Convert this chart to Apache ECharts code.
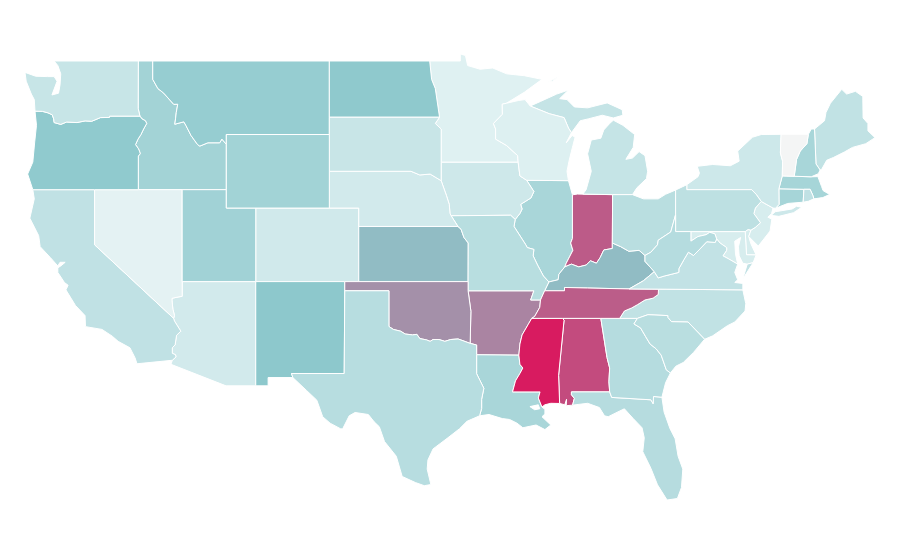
<!DOCTYPE html>
<html>
<head>
<meta charset="utf-8">
<title>US states</title>
<style>
  html, body { margin: 0; padding: 0; background: #fff; }
  #main { width: 900px; height: 560px; }
</style>
<script src="https://cdn.jsdelivr.net/npm/echarts@6/dist/echarts.min.js"></script>
</head>
<body>
<div id="main"></div>
<script>
// values, same order in both lists
var stateNames = ['Alabama','Arizona','Arkansas','California','Colorado','Connecticut','Delaware','District of Columbia','Florida','Georgia','Idaho','Illinois','Indiana','Iowa','Kansas','Kentucky','Louisiana','Maine','Maryland','Massachusetts','Michigan','Minnesota','Mississippi','Missouri','Montana','Nebraska','Nevada','New Hampshire','New Jersey','New Mexico','New York','North Carolina','North Dakota','Ohio','Oklahoma','Oregon','Pennsylvania','Rhode Island','South Carolina','South Dakota','Tennessee','Texas','Utah','Vermont','Virginia','Washington','West Virginia','Wisconsin','Wyoming'];
var stateValues = [90.7,39.5,79.7,46.5,40.3,56.6,37.6,36,50.4,50.7,57.7,55.4,87.7,41.1,69,69,55.4,46.1,37.6,56.6,44.5,34.5,100,49.6,62.8,39.5,29.5,55.8,37.6,66.3,41.4,46.1,65.5,49.2,77.4,65.1,47.6,46.5,49.2,43.4,87.3,50,58.5,2,45.7,43.8,50.7,35.2,58.1];
var scaleColors = ['#f5f5f5', '#e2f2f3', '#8cc8cc', '#d81b60'];

// shared borders in lon/lat, so that neighbouring states line up
var borders = {
  waOr: [[-124.05,46.27],[-123.55,46.26],[-123.17,46.18],[-122.88,46.07],[-122.78,45.85],[-122.75,45.65],[-122.3,45.55],[-121.9,45.68],[-121.2,45.65],[-120.65,45.74],[-120.2,45.72],[-119.6,45.92],[-119,45.93],[-118.98,46],[-116.92,46]],
  orId: [[-116.92,46],[-116.78,45.85],[-116.55,45.75],[-116.46,45.6],[-116.67,45.3],[-116.85,45],[-117.05,44.75],[-117.22,44.45],[-117.04,44.25],[-116.95,44.1],[-116.9,43.95],[-117.03,43.83],[-117.03,42]],
  idMt: [[-116.05,49],[-116.05,48],[-115.7,47.5],[-115.3,47.25],[-114.95,46.93],[-114.62,46.64],[-114.35,46.65],[-114.45,46.2],[-114.5,45.85],[-114.55,45.56],[-113.94,45.69],[-113.8,45.5],[-113.45,44.95],[-113,44.45],[-112.85,44.37],[-112.3,44.55],[-111.5,44.55],[-111.35,44.75],[-111.05,44.47]],
  orCoast: [[-124.05,46.27],[-123.95,45.5],[-124.07,44.6],[-124.2,43.5],[-124.55,42.85],[-124.2,42]],
  caCoast: [[-124.2,42],[-124.1,41.5],[-124.4,40.45],[-123.8,39.5],[-123.7,38.9],[-123,38.3],[-122.5,37.85],[-122.35,38.05],[-122,38.05],[-122.3,37.85],[-122.5,37.75],[-122.5,37.5],[-122.05,36.95],[-121.8,36.8],[-121.95,36.55],[-121.3,35.7],[-120.65,35.15],[-120.62,34.55],[-119.5,34.4],[-118.8,34.03],[-118.4,33.75],[-117.6,33.4],[-117.25,32.85],[-117.12,32.53],[-114.72,32.72]],
  caAz: [[-114.63,35],[-114.57,34.85],[-114.14,34.3],[-114.43,34.08],[-114.53,33.56],[-114.72,33.4],[-114.72,33.1],[-114.5,33.02],[-114.47,32.9],[-114.72,32.72]],
  nvAz: [[-114.63,35],[-114.57,35.15],[-114.68,35.5],[-114.74,35.95],[-114.74,36.09],[-114.4,36.15],[-114.05,36.2]],
  red: [[-100,34.56],[-99.7,34.4],[-99.2,34.3],[-98.9,34.15],[-98.4,34.1],[-98.1,34.13],[-97.9,33.9],[-97.45,33.83],[-97.2,33.75],[-97,33.85],[-96.6,33.85],[-96.2,33.75],[-95.8,33.85],[-95.3,33.88],[-94.48,33.64]],
  txLa: [[-94.04,33.02],[-94.04,31.99],[-93.8,31.6],[-93.55,31.2],[-93.7,30.6],[-93.7,30.1],[-93.84,29.7]],
  txCoast: [[-93.84,29.7],[-94.7,29.4],[-95.2,29],[-96,28.5],[-97,27.9],[-97.35,27.3],[-97.4,26.8],[-97.15,25.96],[-97.6,25.9],[-98.2,26.07],[-99.1,26.4],[-99.5,27.5],[-100.3,28.3],[-100.65,29.1],[-101,29.37],[-101.4,29.77],[-102.3,29.88],[-102.7,29.7],[-103.15,28.98],[-103.3,29],[-104,29.3],[-104.5,29.65],[-104.9,30.55],[-105.6,31.08],[-106.53,31.78]],
  laMsRiver: [[-91.17,33],[-91.1,32.5],[-90.9,32.3],[-91.1,32],[-91.4,31.6],[-91.6,31]],
  laMs: [[-91.6,31],[-89.73,31],[-89.85,30.67],[-89.6,30.18]],
  arMs: [[-91.17,33],[-91.1,33.6],[-90.95,34.1],[-90.55,34.65],[-90.3,35]],
  msAl: [[-88.2,35],[-88.1,34.9],[-88.47,31.9],[-88.4,30.37]],
  alGa: [[-85.6,35],[-85.18,32.87],[-85,32.3],[-85.05,31.55],[-85,31]],
  gaFl: [[-85,31],[-84.86,30.7],[-82.2,30.57],[-82.05,30.36],[-82.02,30.75],[-81.45,30.71]],
  alFl: [[-85,31],[-87.6,31],[-87.6,30.85],[-87.4,30.65],[-87.52,30.28]],
  gaSc: [[-83.11,35],[-83.35,34.7],[-82.9,34.48],[-82.55,34],[-82.25,33.6],[-81.85,33.35],[-81.5,33],[-81.15,32.2],[-80.87,32.03]],
  ncSc: [[-83.11,35],[-82.4,35.2],[-81.05,35.15],[-81.05,35.05],[-80.8,34.82],[-79.67,34.8],[-78.55,33.86]],
  tnNc: [[-81.68,36.59],[-81.7,36.3],[-82.05,36.1],[-82.6,36],[-83.1,35.75],[-83.5,35.57],[-84,35.4],[-84.32,35]],
  kyTn: [[-83.68,36.6],[-86.5,36.65],[-88.07,36.68],[-88.07,36.5],[-89.42,36.5]],
  arTn: [[-89.7,36],[-89.75,35.6],[-90.1,35.1],[-90.3,35]],
  neIa: [[-96.45,42.49],[-96.1,41.7],[-95.9,41.2],[-95.85,40.7],[-95.77,40.58]],
  moKs: [[-95.31,40],[-95.1,39.85],[-94.9,39.4],[-94.61,39.1],[-94.62,37]],
  iaWi: [[-91.22,43.5],[-91.1,42.75],[-90.64,42.51]],
  iaIl: [[-90.64,42.51],[-90.15,41.9],[-90.35,41.55],[-91.05,41.2],[-90.95,40.95],[-91.1,40.7],[-91.42,40.38]],
  moIl: [[-91.42,40.38],[-91.5,40],[-90.7,39],[-90.6,38.85],[-90.15,38.75],[-90.2,38.4],[-89.9,37.9],[-89.5,37.3],[-89.13,36.98]],
  mnWi: [[-92.02,46.7],[-92.3,46.65],[-92.29,46.1],[-92.9,45.6],[-92.75,45.3],[-92.75,44.75],[-92,44.4],[-91.25,43.85],[-91.22,43.5]],
  wiMi: [[-90.4,46.55],[-89.1,46.13],[-88.1,45.92],[-87.8,45.35],[-87.6,45.1]],
  ilIn: [[-87.53,41.72],[-87.53,39.35],[-87.65,39.1],[-87.5,38.7],[-87.95,38],[-88.05,37.8]],
  ilKy: [[-88.05,37.8],[-88.45,37.4],[-88.5,37.1],[-89.13,36.98]],
  inKy: [[-88.05,37.8],[-87.6,37.95],[-87.1,37.8],[-86.6,37.9],[-86.3,38.13],[-85.9,38],[-85.65,38.3],[-85.4,38.72],[-84.82,38.8],[-84.82,39.1]],
  ohKy: [[-82.6,38.42],[-83,38.7],[-83.7,38.65],[-84.25,38.9],[-84.82,39.1]],
  ohWv: [[-80.52,40.64],[-80.85,39.7],[-81.7,39.25],[-81.75,39],[-82.2,38.6],[-82.6,38.42]],
  kyWv: [[-82.6,38.42],[-82.6,38.1],[-81.97,37.54]],
  kyVa: [[-81.97,37.54],[-82.7,37.05],[-83.68,36.6]],
  wvVa: [[-81.97,37.54],[-81.7,37.2],[-81.3,37.3],[-80.3,37.5],[-80.3,37.7],[-79.95,38.2],[-79.65,38.6],[-79.3,38.42],[-78.87,38.77],[-78.4,39.17],[-77.83,39.13],[-77.73,39.32]],
  wvMd: [[-79.48,39.72],[-79.48,39.2],[-79,39.45],[-78.45,39.55],[-78.2,39.68],[-77.85,39.6],[-77.73,39.32]],
  vaMd: [[-77.73,39.32],[-77.5,39.1],[-77.05,38.85],[-77.05,38.7],[-77.3,38.4],[-76.95,38.25],[-76.3,37.95]],
  deMd: [[-75.79,39.72],[-75.7,38.46],[-75.05,38.45]],
  njPa: [[-75.4,39.8],[-75.1,39.95],[-74.75,40.2],[-75.2,40.7],[-75.1,41],[-74.7,41.36]],
  nyPa: [[-74.7,41.36],[-75.05,41.75],[-75.35,42],[-79.76,42],[-79.76,42.27]],
  vtNy: [[-73.35,45.01],[-73.4,44],[-73.25,43.55],[-73.27,42.75]],
  nyMa: [[-73.27,42.75],[-73.5,42.05]],
  nyCt: [[-73.5,42.05],[-73.49,41.2],[-73.73,40.99]],
  vtNh: [[-71.5,45.01],[-71.6,44.5],[-72.05,44.1],[-72.3,43.65],[-72.46,42.73]],
  nhMe: [[-71.08,45.3],[-70.98,43.4],[-70.7,43.07]],
  maRi: [[-71.8,42.02],[-71.38,42.02],[-71.2,41.7],[-71.12,41.5]],
  ctRi: [[-71.8,42.02],[-71.85,41.32]]
};

// a ring mixes plain points with border names, '-name' runs a border backwards
var stateRings = {
  'Washington': [[[-122.75,49],[-117.03,49],[-117.04,46.42],[-116.92,46],'-waOr',[-124.1,46.9],[-124.3,47.2],[-124.65,47.9],[-124.73,48.38],[-124,48.17],[-123.2,48.15],[-122.75,48.15],[-122.55,47.9],[-122.9,47.15],[-122.45,47.25],[-122.35,47.7],[-122.3,48.3],[-122.5,48.75]]],
  'Oregon': [['waOr','orId',[-120,42],[-124.2,42],'-orCoast']],
  'California': [[[-124.2,42],[-120,42],[-120,39],[-114.63,35],'caAz','-caCoast']],
  'Nevada': [[[-120,42],[-114.05,42],[-114.05,36.2],'-nvAz',[-120,39]]],
  'Idaho': [[[-117.03,49],'idMt',[-111.05,42],[-117.03,42],'-orId',[-117.04,46.42]]],
  'Montana': [['idMt',[-111.05,45],[-104.05,45],[-104.05,45.94],[-104.05,49]]],
  'Wyoming': [[[-111.05,45],[-104.05,45],[-104.05,41],[-111.05,41]]],
  'Utah': [[[-114.05,42],[-111.05,42],[-111.05,41],[-109.05,41],[-109.05,37],[-114.05,37]]],
  'Arizona': [[[-114.05,37],[-109.05,37],[-109.05,31.33],[-111.07,31.33],[-114.81,32.5],[-114.72,32.72],'-caAz','nvAz']],
  'Colorado': [[[-109.05,41],[-102.05,41],[-102.05,37],[-109.05,37]]],
  'New Mexico': [[[-109.05,37],[-103,37],[-103,36.5],[-103.04,32],[-106.62,32],[-106.53,31.78],[-108.21,31.78],[-108.21,31.33],[-109.05,31.33]]],
  'Texas': [[[-103,36.5],[-100,36.5],'red',[-94.04,33.55],'txLa','txCoast',[-106.62,32],[-103.04,32]]],
  'Oklahoma': [[[-103,37],[-94.62,37],[-94.62,36.5],[-94.43,35.39],[-94.48,33.64],'-red',[-100,36.5],[-103,36.5]]],
  'Kansas': [[[-102.05,40],'moKs',[-102.05,37]]],
  'Nebraska': [[[-104.05,43],[-98.5,43],[-97.9,42.8],[-97.2,42.85],'neIa',[-95.31,40],[-102.05,40],[-102.05,41],[-104.05,41]]],
  'South Dakota': [[[-104.05,45.94],[-96.56,45.94],[-96.85,45.6],[-96.45,45.3],[-96.45,43.5],[-96.45,42.49],[-97.2,42.85],[-97.9,42.8],[-98.5,43],[-104.05,43]]],
  'North Dakota': [[[-104.05,49],[-97.23,49],[-97.1,48],[-96.85,47.5],[-96.56,45.94],[-104.05,45.94]]],
  'Minnesota': [[[-97.23,49],[-95.15,49],[-95.15,49.38],[-94.8,49.3],[-94.65,48.75],[-93.8,48.55],[-92.95,48.62],[-92,48.3],[-90.8,48.2],[-89.6,48],[-90.8,47.3],'mnWi',[-96.45,43.5],[-96.45,45.3],[-96.85,45.6],[-96.56,45.94],[-96.85,47.5],[-97.1,48]]],
  'Iowa': [[[-96.45,43.5],[-91.22,43.5],[-91.1,42.75],'iaIl',[-91.73,40.61],[-95.77,40.58],'-neIa']],
  'Missouri': [[[-95.77,40.58],[-91.73,40.61],'moIl',[-89.42,36.5],[-89.7,36],[-90.37,36],[-90.15,36.5],[-94.62,36.5],'-moKs']],
  'Arkansas': [[[-94.62,36.5],[-90.15,36.5],[-90.37,36],'arTn','-arMs',[-94.04,33.02],[-94.04,33.55],[-94.48,33.64],[-94.43,35.39]]],
  'Louisiana': [[[-94.04,33.02],'laMsRiver','laMs',[-89.4,30.05],[-89.4,29.8],[-89.6,29.65],[-89,29.2],[-89.4,28.95],[-90,29.2],[-90.9,29.05],[-91.3,29.3],[-91.8,29.5],[-92.3,29.55],[-93.2,29.77],'-txLa'],[[-90.42,30.2],[-90.1,30.03],[-89.75,30.08],[-89.85,30.3]]],
  'Wisconsin': [['mnWi','iaWi',[-87.8,42.49],[-87.9,43],[-87.75,43.6],[-87.5,44.4],[-87.35,44.85],[-87.55,44.95],[-87.95,44.55],'-wiMi',[-90.75,46.9],[-91.2,46.85]]],
  'Illinois': [[[-90.64,42.51],[-87.8,42.49],'ilIn','ilKy','-moIl','-iaIl']],
  'Indiana': [[[-87.53,41.72],[-87.2,41.76],[-84.8,41.73],[-84.82,39.1],'-inKy','-ilIn']],
  'Ohio': [[[-84.8,41.73],[-83.45,41.73],[-82.7,41.5],[-81.7,41.5],[-81.2,41.75],[-80.52,41.98],'ohWv','ohKy']],
  'Michigan': [
    [[-86.82,41.76],[-84.8,41.73],[-83.45,41.73],[-83.15,42.1],[-82.5,42.6],[-82.42,43],[-82.6,43.85],[-83,44.07],[-83.45,43.72],[-83.9,43.65],[-83.4,44.3],[-83.3,45],[-84.1,45.5],[-84.75,45.78],[-85,45.6],[-85.4,45.25],[-85.6,44.8],[-86.25,44.7],[-86.5,43.95],[-86.25,43],[-86.6,42]],
    ['wiMi',[-87,45.75],[-86.46,45.85],[-85.5,46.05],[-84.75,45.9],[-84.1,46.05],[-84.15,46.35],[-85.17,46.72],[-86.5,46.45],[-87.4,46.5],[-87.9,46.9],[-88.4,46.95],[-87.8,47.42],[-88.6,47.2],[-89.7,46.8]],
    [[-89.2,47.85],[-88.45,48.15],[-88.9,47.9]]
  ],
  'Kentucky': [[[-89.13,36.98],'-ilKy','inKy','-ohKy','kyWv','kyVa','kyTn']],
  'Tennessee': [[[-89.42,36.5],'-kyTn',[-81.68,36.59],'tnNc',[-85.6,35],[-88.2,35],[-90.3,35],'-arTn']],
  'Mississippi': [[[-91.17,33],'arMs','msAl',[-89,30.38],[-89.4,30.3],'-laMs','-laMsRiver']],
  'Alabama': [[[-88.2,35],[-85.6,35],'alGa','alFl',[-87.95,30.25],[-87.93,30.6],[-88.05,30.3],[-88.4,30.37],'-msAl']],
  'Georgia': [[[-85.6,35],[-83.11,35],'gaSc',[-81.2,31.5],[-81.45,30.71],'-gaFl','-alGa']],
  'Florida': [['gaFl',[-81.3,29.9],[-80.9,29],[-80.55,28.45],[-80.35,27.5],[-80.03,26.8],[-80.12,25.8],[-80.4,25.2],[-81.1,25.12],[-81.75,25.95],[-82.2,26.85],[-82.75,27.75],[-82.65,28.5],[-82.8,29.05],[-83.4,29.55],[-84,30.08],[-84.35,29.95],[-85.1,29.65],[-85.35,29.7],[-85.7,30.15],[-86.5,30.38],[-87.52,30.28],'-alFl']],
  'South Carolina': [['ncSc',[-79.3,33.15],[-80,32.6],[-80.5,32.4],[-80.87,32.03],'-gaSc']],
  'North Carolina': [[[-81.68,36.59],[-75.95,36.55],[-75.75,35.8],[-75.8,35.4],[-76.5,34.8],[-77,34.6],[-78,34.05],[-78.55,33.86],'-ncSc',[-84.32,35],'-tnNc']],
  'Virginia': [
    [[-83.68,36.6],'-kyVa','wvVa','vaMd',[-76.5,37.5],[-76.3,37.1],[-76.5,36.95],[-75.95,36.9],[-75.95,36.55],[-81.68,36.59]],
    [[-75.95,37.15],[-75.65,37.95],[-75.25,38.03]]
  ],
  'West Virginia': [[[-80.52,40.64],[-80.52,39.72],'wvMd','-wvVa','-kyWv','-ohWv']],
  'Maryland': [['wvMd','vaMd',[-76.45,38.5],[-76.5,39.2],[-76.1,39.4],[-76.25,38.9],[-76.2,38.4],[-75.95,38],[-75.65,37.95],[-75.25,38.03],'-deMd']],
  'District of Columbia': [[[-77.12,38.93],[-77.04,39],[-76.91,38.89],[-77.04,38.79],[-77.05,38.85]]],
  'Delaware': [['deMd',[-75.4,39.05],[-75.55,39.45],[-75.4,39.8],[-75.6,39.83]]],
  'Pennsylvania': [[[-80.52,41.98],[-79.76,42.27],'-nyPa','-njPa',[-75.6,39.83],[-75.79,39.72],[-80.52,39.72],[-80.52,40.64]]],
  'New Jersey': [['njPa',[-73.9,41],[-74,40.7],[-74.25,40.5],[-73.98,40.4],[-74.1,39.75],[-74.9,38.93],[-75.55,39.45]]],
  'New York': [
    ['nyPa',[-79,42.7],[-78.9,42.9],[-79.05,43.27],[-78,43.37],[-76.8,43.3],[-76.2,43.55],[-76.3,44.1],[-75.3,44.85],[-74.7,45],'vtNy','nyMa','nyCt',[-73.9,41]],
    [[-74.03,40.6],[-73.75,40.8],[-72.6,40.95],[-72.3,41.1],[-71.95,41.04],[-72.5,40.75],[-73.5,40.55]]
  ],
  'Vermont': [['-vtNy','vtNh']],
  'New Hampshire': [['vtNh',[-71.3,42.7],[-70.82,42.87],'-nhMe',[-71.3,45.3]]],
  'Maine': [['nhMe',[-70.6,43.1],[-70.25,43.6],[-69.8,43.75],[-69.05,44.05],[-68.5,44.3],[-67.6,44.5],[-66.97,44.83],[-67.45,45.2],[-67.45,45.6],[-67.78,45.9],[-67.8,47.07],[-68.3,47.35],[-68.9,47.2],[-69.23,47.46],[-70,46.7],[-70.3,46.2],[-70.4,45.75]]],
  'Massachusetts': [['-nyMa',[-72.46,42.73],[-71.3,42.7],[-70.85,42.71],[-70.6,42.17],[-70.5,41.95],[-70.05,41.74],[-70.52,41.57],[-71.12,41.5],[-71.2,41.7],[-71.38,42.02],[-71.8,42.02]]],
  'Connecticut': [[[-73.5,42.05],[-71.8,42.02],'ctRi',[-72.9,41.25],[-73.73,40.99],[-73.49,41.2]]],
  'Rhode Island': [['maRi',[-71.5,41.37],[-71.85,41.32]]]
};

function expandRing(ring) {
  var points = [];
  ring.forEach(function (part) {
    if (typeof part !== 'string') {
      points.push(part);
    } else if (part.charAt(0) === '-') {
      points = points.concat(borders[part.slice(1)].slice().reverse());
    } else {
      points = points.concat(borders[part]);
    }
  });
  points.push(points[0]);
  return points;
}

function buildGeoJson() {
  var features = stateNames.map(function (name) {
    var rings = stateRings[name];
    var coords;
    if (name === 'Louisiana') {
      // second ring is Lake Pontchartrain, a hole
      coords = [[expandRing(rings[0]), expandRing(rings[1])]];
    } else {
      coords = rings.map(function (r) { return [expandRing(r)]; });
    }
    return {
      type: 'Feature',
      properties: { name: name },
      geometry: { type: 'MultiPolygon', coordinates: coords }
    };
  });
  return { type: 'FeatureCollection', features: features };
}

echarts.registerMap('USA', buildGeoJson());

var chart = echarts.init(document.getElementById('main'));

var option = {
  animation: false,
  visualMap: {
    show: false,
    min: 0,
    max: 100,
    inRange: { color: scaleColors }
  },
  series: [
    {
      type: 'map',
      map: 'USA',
      aspectScale: 0.8,
      left: 25,
      top: 54,
      width: 850,
      height: 446,
      label: { show: false },
      itemStyle: { borderColor: '#fff', borderWidth: 1 },
      data: stateNames.map(function (name, i) {
        return { name: name, value: stateValues[i] };
      })
    }
  ]
};

chart.setOption(option);
</script>
</body>
</html>
